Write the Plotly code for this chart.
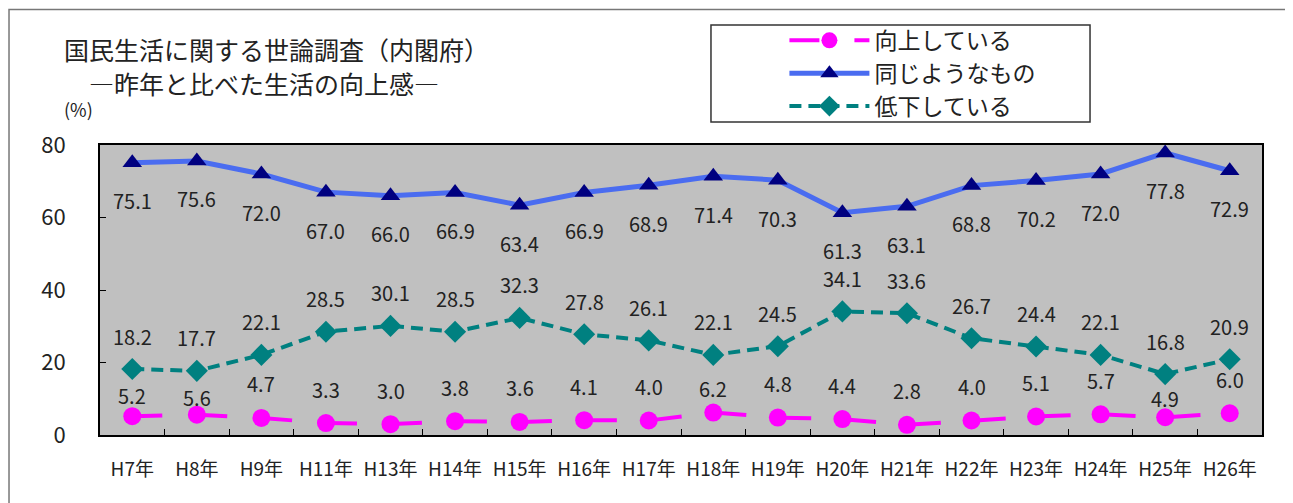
import plotly.graph_objects as go

# ─── Data ─────────────────────────────────────────────────────────────────────
years = ["H7年", "H8年", "H9年", "H11年", "H13年", "H14年", "H15年", "H16年", "H17年",
         "H18年", "H19年", "H20年", "H21年", "H22年", "H23年", "H24年", "H25年", "H26年"]
improving = [5.2, 5.6, 4.7, 3.3, 3.0, 3.8, 3.6, 4.1, 4.0,
             6.2, 4.8, 4.4, 2.8, 4.0, 5.1, 5.7, 4.9, 6.0]
same = [75.1, 75.6, 72.0, 67.0, 66.0, 66.9, 63.4, 66.9, 68.9,
        71.4, 70.3, 61.3, 63.1, 68.8, 70.2, 72.0, 77.8, 72.9]
declining = [18.2, 17.7, 22.1, 28.5, 30.1, 28.5, 32.3, 27.8, 26.1,
             22.1, 24.5, 34.1, 33.6, 26.7, 24.4, 22.1, 16.8, 20.9]

FONT = "Noto Sans CJK JP"
TXT = "#222222"

fig = go.Figure()

fig.add_trace(go.Scatter(
    x=years, y=improving, mode="lines+markers", name="向上している",
    line=dict(color="#ff00ff", width=4, dash="30px,35px"),
    marker=dict(symbol="circle", size=18, color="#ff00ff"),
    cliponaxis=False,
))
fig.add_trace(go.Scatter(
    x=years, y=same, mode="lines+markers", name="同じようなもの",
    line=dict(color="#4a6cf0", width=5),
    marker=dict(symbol="triangle-up", size=17, color="#000080"),
    cliponaxis=False,
))
fig.add_trace(go.Scatter(
    x=years, y=declining, mode="lines+markers", name="低下している",
    line=dict(color="#008080", width=4, dash="12px,7px"),
    marker=dict(symbol="diamond", size=17, color="#008080"),
    cliponaxis=False,
))

# ─── Data labels ──────────────────────────────────────────────────────────────
small_shift = {"H7年": 21, "H8年": 17, "H18年": 24, "H25年": 19}
for yr, v in zip(years, improving):
    fig.add_annotation(x=yr, y=v, text=f"{v:.1f}", showarrow=False,
                       yshift=small_shift.get(yr, 34),
                       font=dict(size=20, color=TXT, family=FONT))
for yr, v in zip(years, same):
    fig.add_annotation(x=yr, y=v, text=f"{v:.1f}", showarrow=False, yshift=-38,
                       font=dict(size=20, color=TXT, family=FONT))
for yr, v in zip(years, declining):
    fig.add_annotation(x=yr, y=v, text=f"{v:.1f}", showarrow=False, yshift=33,
                       font=dict(size=20, color=TXT, family=FONT))

# ─── Titles ───────────────────────────────────────────────────────────────────
fig.add_annotation(xref="paper", yref="paper", x=-0.033, y=1.332,
                   xanchor="left", yanchor="middle", showarrow=False,
                   text="国民生活に関する世論調査（内閣府）",
                   font=dict(size=25, color=TXT, family=FONT))
fig.add_annotation(xref="paper", yref="paper", x=-0.011, y=1.214,
                   xanchor="left", yanchor="middle", showarrow=False,
                   text="―昨年と比べた生活の向上感―",
                   font=dict(size=25, color=TXT, family=FONT))
fig.add_annotation(xref="paper", yref="paper", x=-0.033, y=1.125,
                   xanchor="left", yanchor="middle", showarrow=False,
                   text="(%)", font=dict(size=18, color=TXT, family=FONT))

# legend frame and outer frame
fig.add_shape(type="rect", xref="paper", yref="paper",
              x0=0.5258, x1=0.852, y0=1.079, y1=1.414,
              line=dict(color="#333333", width=1.5), fillcolor="white", layer="below")
fig.add_shape(type="rect", xref="paper", yref="paper",
              x0=-0.0783, x1=1.0224, y0=-0.26, y1=1.467,
              line=dict(color="#777777", width=1.5), layer="below")

# the page body adds an 8px offset, so the figure is sized to the rest of the window
fig.update_layout(
    width=1285, height=495,
    margin=dict(l=92, r=31, t=137, b=68, autoexpand=False),
    paper_bgcolor="white",
    plot_bgcolor="#c0c0c0",
    font=dict(family=FONT, color=TXT),
    showlegend=True,
    legend=dict(x=0.589, y=1.435, xanchor="left", yanchor="top",
                bgcolor="rgba(0,0,0,0)", borderwidth=0,
                font=dict(size=23, family=FONT, color=TXT),
                itemwidth=80, tracegroupgap=0),
    xaxis=dict(type="category", range=[-0.5, 17.5], showgrid=False, zeroline=False,
               showline=True, linecolor="black", linewidth=2, mirror=True,
               ticks="inside", ticklen=6, tickcolor="black", tickson="boundaries",
               tickangle=0, ticklabelstandoff=16,
               tickfont=dict(size=19, family=FONT, color=TXT)),
    yaxis=dict(range=[0, 80], dtick=20, showgrid=False, zeroline=False,
               showline=True, linecolor="black", linewidth=2, mirror=True,
               ticks="inside", ticklen=6, tickcolor="black",
               ticklabelstandoff=28,
               tickfont=dict(size=22, family=FONT, color=TXT)),
)

fig.write_html("out.html")
